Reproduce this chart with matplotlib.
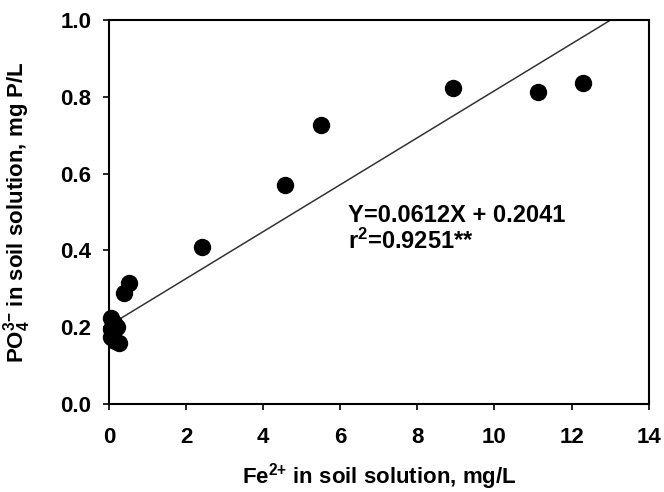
import numpy as np
import matplotlib.pyplot as plt

plt.rcParams['font.family'] = ['Liberation Sans', 'DejaVu Sans']
plt.rcParams['font.weight'] = 'bold'
plt.rcParams['mathtext.fontset'] = 'custom'
plt.rcParams['mathtext.rm'] = 'Liberation Sans'
plt.rcParams['mathtext.bf'] = 'Liberation Sans:bold'
plt.rcParams['mathtext.default'] = 'bf'

# Fe2+ (mg/L) vs PO4 3- (mg P/L)
fe = [0.05, 0.12, 0.05, 0.22, 0.05, 0.15, 0.25, 0.10,
      0.39, 0.52, 2.42, 4.56, 5.49, 8.92, 11.12, 12.29]
po4 = [0.225, 0.21, 0.195, 0.20, 0.175, 0.165, 0.16, 0.185,
       0.29, 0.315, 0.41, 0.57, 0.728, 0.823, 0.813, 0.836]

slope = 0.0612
intercept = 0.2041


def main():
    fig = plt.figure(figsize=(6.64, 4.92), dpi=100)
    ax = fig.add_axes([0.164, 0.179, 0.813, 0.780])

    # regression line, stops where it hits y = 1
    x_fit = np.array([0.0, (1.0 - intercept) / slope])
    ax.plot(x_fit, slope * x_fit + intercept, color='#333333', lw=1.1, zorder=1)

    ax.plot(fe, po4, 'o', color='black', ms=11.5, zorder=2, clip_on=False)

    ax.set_xlim(0, 14)
    ax.set_ylim(0, 1.0)
    ax.set_xticks(np.arange(0, 15, 2))
    yt = np.arange(0, 1.01, 0.2)
    ax.set_yticks(yt)
    ax.set_yticklabels([f"{v:.1f}" for v in yt])
    ax.tick_params(direction='out', length=4.5, width=1.2, labelsize=16)
    ax.tick_params(axis='x', pad=12)
    ax.tick_params(axis='y', pad=8)
    for lab in ax.get_xticklabels() + ax.get_yticklabels():
        lab.set_fontweight('bold')
    for s in ax.spines.values():
        s.set_linewidth(1.5)

    ax.text(6.2, 0.49, "Y=0.0612X + 0.2041", fontsize=17, fontweight='bold',
            va='center', ha='left')
    ax.text(6.2, 0.425, r"r$^{\mathrm{2}}$=0.9251**", fontsize=17,
            fontweight='bold', va='center', ha='left')

    ax.set_xlabel("Fe$^{2{+}}$ in soil solution, mg/L", fontsize=16,
                  fontweight='bold')
    ax.xaxis.set_label_coords(0.5, -0.15)
    ax.set_ylabel(r"PO$_{\mathrm{4}}^{\mathrm{3{-}}}$ in soil solution, mg P/L",
                  fontsize=16, fontweight='bold')
    ax.yaxis.set_label_coords(-0.14, 0.5)

    fig.savefig('out.png', dpi=100)


if __name__ == "__main__":
    main()
